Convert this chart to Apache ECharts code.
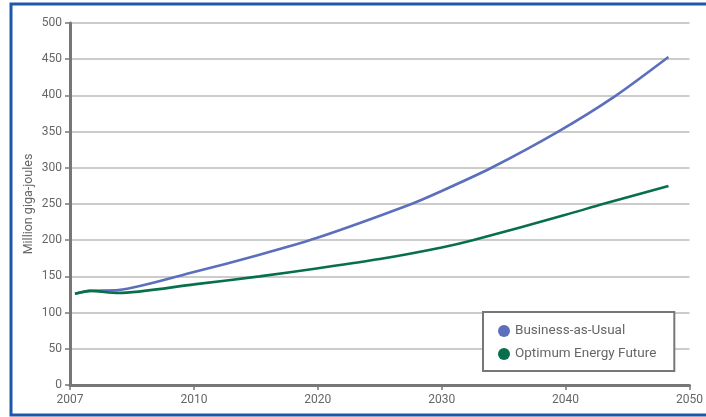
<!DOCTYPE html>
<html>
<head>
<meta charset="utf-8">
<script src="https://cdn.jsdelivr.net/npm/echarts@6/dist/echarts.min.js"></script>
<style>
html,body{margin:0;padding:0;background:#fff;}
#c{width:706px;height:417px;}
</style>
</head>
<body>
<div id="c"></div>
<script>
// Tick labels on the (evenly spaced) x axis
var xTickLabels = ['2007', '2010', '2020', '2030', '2040', '2050'];
var yTicks = [0, 50, 100, 150, 200, 250, 300, 350, 400, 450, 500];

// Positions along the x axis, in tick-label units (0 = 2007, 1 = 2010, ... 5 = 2050)
var bauX   = [0.04, 0.16, 0.39, 1.0, 1.53, 1.99, 2.74, 3.0, 3.39, 3.94, 4.40, 4.83];
var bauY   = [126, 130, 131, 156, 180, 203, 249, 268, 299, 350, 399, 453];
var oefX   = [0.04, 0.16, 0.39, 1.0, 1.53, 1.99, 2.5, 3.0, 3.25, 4.0, 4.30, 4.83];
var oefY   = [126, 130, 127, 139, 150, 161, 174, 190, 200, 235, 250, 275];

var seriesNames = ['Business-as-Usual', 'Optimum Energy Future'];

function pairs(xs, ys) { return xs.map(function (x, i) { return [x, ys[i]]; }); }

var chart = echarts.init(document.getElementById('c'));
var font = 'Roboto, "DejaVu Sans", sans-serif';
chart.setOption({
  animation: false,
  backgroundColor: '#fff',
  graphic: [{
    type: 'rect',
    shape: { x: 11, y: 4, width: 710, height: 411 },
    style: { fill: 'none', stroke: '#1f58a8', lineWidth: 3 },
    z: 100
  }],
  grid: { left: 70, right: 16, top: 23, bottom: 32 },
  xAxis: {
    type: 'value', min: 0, max: 5, interval: 1,
    axisLine: { show: true, lineStyle: { color: '#777', width: 3 } },
    axisTick: { show: true, length: 5, lineStyle: { color: '#777', width: 1.5 } },
    axisLabel: {
      color: '#666', fontSize: 12, fontFamily: font, margin: 9,
      formatter: function (v) { return xTickLabels[Math.round(v)]; }
    },
    splitLine: { show: false }
  },
  yAxis: {
    type: 'value', min: yTicks[0], max: yTicks[yTicks.length - 1], interval: 50,
    name: 'Million giga-joules', nameLocation: 'middle', nameGap: 35,
    nameMoveOverlap: false,
    nameTextStyle: { color: '#666', fontSize: 12.5, fontFamily: font },
    axisLine: { show: true, lineStyle: { color: '#777', width: 3 } },
    axisTick: { show: true, length: 5, lineStyle: { color: '#777', width: 1.5 } },
    axisLabel: { color: '#666', fontSize: 12, fontFamily: font, margin: 8 },
    splitLine: { show: true, lineStyle: { color: '#bbb', width: 1.5 } }
  },
  legend: {
    orient: 'vertical',
    left: 483, top: 312,
    padding: [12, 18, 10, 15],
    itemGap: 9,
    itemWidth: 12, itemHeight: 12,
    icon: 'circle',
    backgroundColor: '#fff',
    borderColor: '#777', borderWidth: 2,
    textStyle: { color: '#666', fontSize: 13.5, fontFamily: font },
    data: seriesNames
  },
  series: [{
    name: seriesNames[0], type: 'line', showSymbol: false, symbol: 'circle',
    smooth: 0.25,
    data: pairs(bauX, bauY),
    itemStyle: { color: '#5b6fbd' },
    lineStyle: { color: '#5b6fbd', width: 2.6 }
  }, {
    name: seriesNames[1], type: 'line', showSymbol: false, symbol: 'circle',
    smooth: 0.25,
    data: pairs(oefX, oefY),
    itemStyle: { color: '#07704a' },
    lineStyle: { color: '#07704a', width: 2.6 }
  }]
});
</script>
</body>
</html>
